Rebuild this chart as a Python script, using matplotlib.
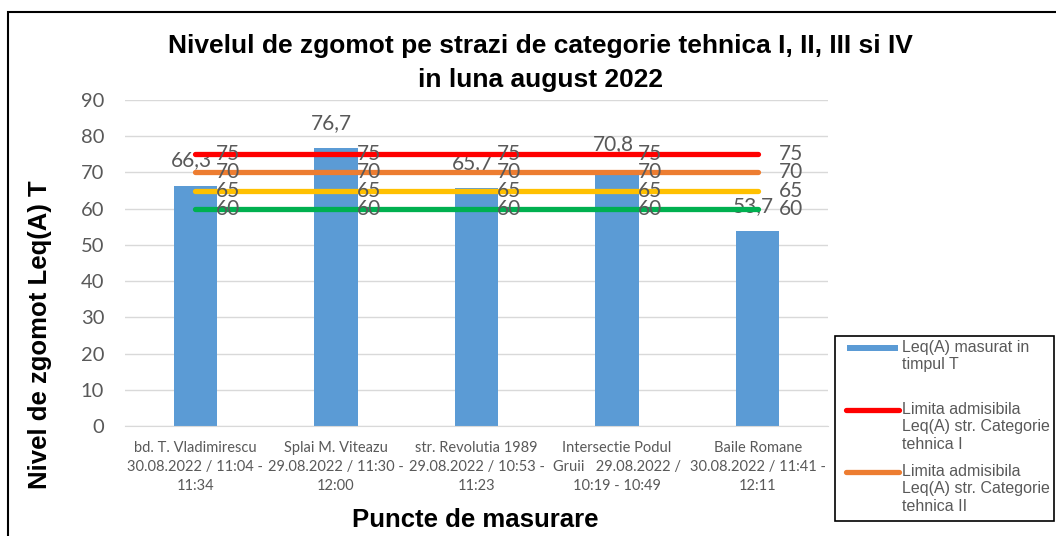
import matplotlib
matplotlib.use("Agg")
import matplotlib.pyplot as plt
from matplotlib.lines import Line2D
from matplotlib.patches import Rectangle
import numpy as np

categories = [
    "bd. T. Vladimirescu\n30.08.2022 / 11:04 -\n11:34",
    "Splai M. Viteazu\n29.08.2022 / 11:30 -\n12:00",
    "str. Revolutia 1989\n29.08.2022 / 10:53 -\n11:23",
    "Intersectie Podul\nGruii   29.08.2022 /\n10:19 - 10:49",
    "Baile Romane\n30.08.2022 / 11:41 -\n12:11",
]
measured = [66.3, 76.7, 65.7, 70.8, 53.7]
measured_labels = ["66,3", "76,7", "65,7", "70,8", "53,7"]
limit_I = [75, 75, 75, 75, 75]
limit_II = [70, 70, 70, 70, 70]
limit_III = [65, 65, 65, 65, 65]
limit_IV = [60, 60, 60, 60, 60]
yticks = [0, 10, 20, 30, 40, 50, 60, 70, 80, 90]

title = "Nivelul de zgomot pe strazi de categorie tehnica I, II, III si IV\nin luna august 2022"
ylabel = "Nivel de zgomot Leq(A) T"
xlabel = "Puncte de masurare"
legend_labels = ["Leq(A) masurat in\ntimpul T",
                 "Limita admisibila\nLeq(A) str. Categorie\ntehnica I",
                 "Limita admisibila\nLeq(A) str. Categorie\ntehnica II"]

W, H = 1056, 536
fig = plt.figure(figsize=(W / 100, H / 100), dpi=100)
fig.patch.set_facecolor("white")

def fx(px):
    return px / W

def fy(py):
    return 1 - py / H

# outer chart frame
fig.patches.append(Rectangle((fx(8), -0.05), 1.1, fy(12) + 0.05,
                             transform=fig.transFigure, fill=False,
                             edgecolor="black", linewidth=1.5))

ax = fig.add_axes([fx(125), fy(426), (828 - 125) / W, (426 - 100) / H])
x = np.arange(len(categories))
label_font = ["Lato", "DejaVu Sans"]
arial = ["Liberation Sans", "DejaVu Sans"]
grey = "#595959"

ax.bar(x, measured, width=0.31, color="#5B9BD5", zorder=2)
for xi, v, lab in zip(x, measured, measured_labels):
    ax.annotate(lab, (xi, v), xytext=(-3, 11), textcoords="offset points",
                ha="center", va="bottom", fontsize=15, color=grey, family=label_font)

line_specs = [(limit_I, "#FF0000"), (limit_II, "#ED7D31"),
              (limit_III, "#FFC000"), (limit_IV, "#00B050")]
for vals, col in line_specs:
    ax.plot(x, vals, color=col, linewidth=3.8, solid_capstyle="round", zorder=3)
    for xi, v in zip(x, vals):
        ax.annotate(str(v), (xi, v), xytext=(15, 0), textcoords="offset points",
                    ha="left", va="center", fontsize=15, color=grey,
                    family=label_font, zorder=4)

ax.set_xlim(-0.5, len(categories) - 0.5)
ax.set_ylim(0, 90)
ax.set_yticks(yticks)
ax.set_yticklabels([str(t) for t in yticks], fontsize=14.5, color=grey, family=label_font)
ax.set_xticks(x)
ax.set_xticklabels(categories, fontsize=10.5, color=grey, family=label_font, linespacing=1.45)
ax.tick_params(axis="both", length=0)
ax.tick_params(axis="y", pad=15)
ax.tick_params(axis="x", pad=11)
ax.grid(axis="y", color="#D9D9D9", linewidth=1, zorder=0)
ax.set_axisbelow(True)
for s in ["top", "right", "left"]:
    ax.spines[s].set_visible(False)
ax.spines["bottom"].set_color("#D9D9D9")

fig.text(fx(540), fy(63), title, ha="center", va="center", fontsize=19,
         fontweight="bold", family=arial, linespacing=1.55)
fig.text(fx(40), fy(335), ylabel, ha="center", va="center", rotation=90,
         fontsize=18.5, fontweight="bold", family=arial)
fig.text(fx(475), fy(520), xlabel, ha="center", va="center",
         fontsize=18.5, fontweight="bold", family=arial)

# legend (drawn manually to follow the reference's layout; partially clipped)
fig.patches.append(Rectangle((fx(835), fy(521)), fx(1054) - fx(835), fy(336) - fy(521),
                             transform=fig.transFigure, fill=True, facecolor="white",
                             edgecolor="black", linewidth=1.2, zorder=5))
entry_y = [348, 410, 472]
fig.patches.append(Rectangle((fx(847), fy(351)), fx(898) - fx(847), fy(345) - fy(351),
                             transform=fig.transFigure, facecolor="#5B9BD5",
                             edgecolor="none", zorder=6))
for ey, col in zip(entry_y[1:], ["#FF0000", "#ED7D31"]):
    fig.add_artist(Line2D([fx(846), fx(899)], [fy(ey), fy(ey)], color=col,
                          linewidth=3.8, solid_capstyle="round",
                          transform=fig.transFigure, zorder=6))
for ey, lab in zip(entry_y, legend_labels):
    fig.text(fx(902), fy(ey - 8), lab, ha="left", va="top", fontsize=11.5,
             color=grey, family=arial, linespacing=1.2, zorder=6)

fig.savefig("out.png", dpi=100)
